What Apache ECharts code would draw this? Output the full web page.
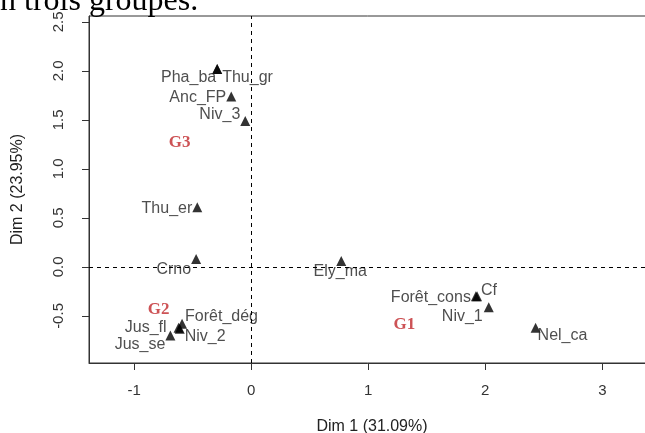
<!DOCTYPE html>
<html>
<head>
<meta charset="utf-8">
<script src="https://cdn.jsdelivr.net/npm/echarts@6/dist/echarts.min.js"></script>
<style>
html,body{margin:0;padding:0;background:#fff;}
#main{width:645px;height:433px;}
</style>
</head>
<body>
<div id="main"></div>
<script>
// coordonnees des modalites (Dim 1 / Dim 2)
var pointNames = ['Pha_ba', 'Thu_gr', 'Anc_FP', 'Niv_3', 'Thu_er', 'Crno', 'Ely_ma', 'Forêt_cons', 'Cf', 'Niv_1', 'Nel_ca', 'Forêt_dég', 'Niv_2', 'Jus_fl', 'Jus_se'];
var dim1 = [-0.29, -0.29, -0.17, -0.05, -0.46, -0.47, 0.77, 1.92, 1.93, 2.03, 2.43, -0.59, -0.61, -0.62, -0.69];
var dim2 = [2.02, 2.02, 1.74, 1.49, 0.61, 0.08, 0.06, -0.30, -0.30, -0.41, -0.62, -0.58, -0.63, -0.62, -0.70];

// etiquettes des groupes
var groupNames = ['G1', 'G2', 'G3'];
var groupDim1 = [1.31, -0.79, -0.61];
var groupDim2 = [-0.59, -0.44, 1.27];

var xTicks = [-1, 0, 1, 2, 3];
var yTicks = [-0.5, 0.0, 0.5, 1.0, 1.5, 2.0, 2.5];

// placement des etiquettes : [position, dx, dy]
var labelPlace = {
	'Pha_ba': ['left', 4, 9],
	'Thu_gr': ['right', 0, 9],
	'Anc_FP': ['left', 0, 1],
	'Niv_3': ['left', 0, -6],
	'Thu_er': ['left', 0, 1],
	'Crno': ['left', 0, 10],
	'Ely_ma': ['bottom', -1, -2],
	'Forêt_cons': ['left', 0, 1],
	'Cf': ['right', -1, -6],
	'Niv_1': ['left', -1, 9],
	'Nel_ca': ['right', -3, 8],
	'Forêt_dég': ['right', -2, -7],
	'Niv_2': ['right', 0, 8],
	'Jus_fl': ['left', -7, 0],
	'Jus_se': ['left', 0, 9]
};

function _pointData() {
	var data = [];
	for (var i = 0; i < pointNames.length; i++) {
		var p = labelPlace[pointNames[i]];
		data.push({
			name: pointNames[i],
			value: [dim1[i], dim2[i]],
			label: { position: p[0], offset: [p[1], p[2]] }
		});
	}
	return data;
}

function _groupData() {
	var data = [];
	for (var i = 0; i < groupNames.length; i++) {
		data.push({ name: groupNames[i], value: [groupDim1[i], groupDim2[i]] });
	}
	return data;
}

var sans = 'Liberation Sans';

var option = {
	animation: false,
	backgroundColor: '#fff',
	grid: {
		left: 89, top: 16, right: -10, bottom: 70,
		outerBoundsMode: 'none',
		containLabel: false,
		show: true, borderColor: '#333', borderWidth: 1
	},
	xAxis: {
		type: 'value',
		min: -1.385, max: 3.45,
		name: 'Dim 1 (31.09%)',
		nameLocation: 'middle',
		nameGap: 56,
		nameTextStyle: { fontFamily: sans, fontSize: 16, color: '#222' },
		axisLine: { show: true, onZero: false, lineStyle: { color: '#333' } },
		axisTick: { show: true, length: 7, customValues: xTicks, lineStyle: { color: '#333' } },
		axisLabel: { customValues: xTicks, margin: 20, fontFamily: sans, fontSize: 15, color: '#333' },
		splitLine: { show: false }
	},
	yAxis: {
		type: 'value',
		min: -0.98, max: 2.56,
		name: 'Dim 2 (23.95%)',
		nameLocation: 'middle',
		nameGap: 63,
		nameRotate: 90,
		nameTextStyle: { fontFamily: sans, fontSize: 16, color: '#222' },
		axisLine: { show: true, onZero: false, lineStyle: { color: '#333' } },
		axisTick: { show: true, length: 7, customValues: yTicks, lineStyle: { color: '#333' } },
		axisLabel: {
			customValues: yTicks, rotate: 90, margin: 23,
			fontFamily: sans, fontSize: 15, color: '#333',
			formatter: function (v) { return v.toFixed(1); }
		},
		splitLine: { show: false }
	},
	graphic: [{
		type: 'text',
		x: 0, y: 18,
		style: {
			text: 'n trois groupes.',
			font: '32px "Liberation Serif"',
			fill: '#000',
			verticalAlign: 'bottom'
		}
	}],
	series: [{
		type: 'scatter',
		symbol: 'triangle',
		symbolSize: 10,
		itemStyle: { color: '#000' },
		label: {
			show: true,
			formatter: '{b}',
			distance: 0,
			fontFamily: sans, fontSize: 16, color: '#222'
		},
		markLine: {
			silent: true,
			symbol: 'none',
			label: { show: false },
			lineStyle: { type: [4, 4], color: '#000', width: 1 },
			data: [{ xAxis: 0 }, { yAxis: 0 }]
		},
		data: _pointData()
	}, {
		type: 'scatter',
		symbolSize: 0,
		label: {
			show: true,
			position: 'inside',
			formatter: '{b}',
			fontFamily: 'Liberation Serif', fontSize: 17, fontWeight: 'bold', color: '#c0282c'
		},
		data: _groupData()
	}]
};

var myChart = echarts.init(document.getElementById('main'));
myChart.setOption(option);
</script>
</body>
</html>
